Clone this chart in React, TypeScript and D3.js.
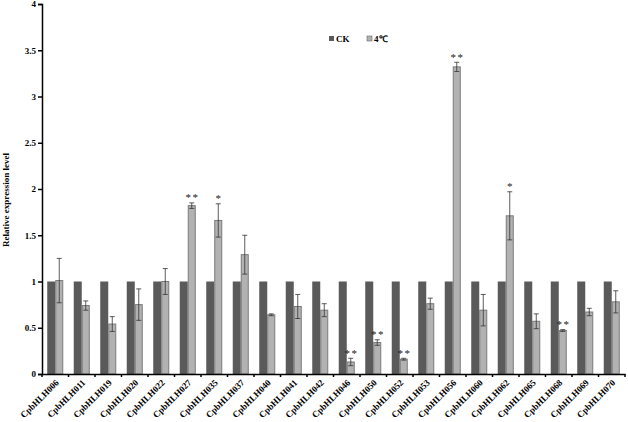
import React, { useEffect, useRef } from "react";
import * as d3 from "d3";

const genes = [
  "CpbHLH006", "CpbHLH011", "CpbHLH019", "CpbHLH020", "CpbHLH022", "CpbHLH027",
  "CpbHLH035", "CpbHLH037", "CpbHLH040", "CpbHLH041", "CpbHLH042", "CpbHLH046",
  "CpbHLH050", "CpbHLH052", "CpbHLH053", "CpbHLH056", "CpbHLH060", "CpbHLH062",
  "CpbHLH065", "CpbHLH068", "CpbHLH069", "CpbHLH070",
];
const ckValues = genes.map(() => 1);
const coldValues = [
  1.01, 0.74, 0.54, 0.75, 1.0, 1.82, 1.66, 1.29, 0.64, 0.73, 0.69, 0.13,
  0.34, 0.16, 0.76, 3.32, 0.69, 1.71, 0.57, 0.47, 0.67, 0.78,
];
const coldErrors = [
  0.24, 0.05, 0.08, 0.17, 0.14, 0.03, 0.18, 0.21, 0.01, 0.13, 0.07, 0.04,
  0.03, 0.01, 0.06, 0.05, 0.17, 0.26, 0.08, 0.01, 0.04, 0.12,
];
const marks = [
  "", "", "", "", "", "**", "*", "", "", "", "", "**",
  "**", "**", "", "**", "", "*", "", "**", "", "",
];
const yTicks = [0, 0.5, 1, 1.5, 2, 2.5, 3, 3.5, 4];

const App = () => {
  const ref = useRef<SVGSVGElement>(null);

  useEffect(() => {
    const width = 628;
    const height = 422;
    const left = 42;
    const right = 625;
    const top = 4;
    const bottom = 374;
    const font = "'Liberation Serif', 'Times New Roman', serif";

    const svg = d3.select(ref.current);
    svg.selectAll("*").remove();
    svg.attr("width", width).attr("height", height);

    const x = d3.scaleBand().domain(genes).range([left, right]).padding(0);
    const y = d3.scaleLinear().domain([0, 4]).range([bottom, top]);
    const barW = 8;

    const g = svg.append("g");

    // CK bars
    g.selectAll(".ck")
      .data(genes)
      .enter()
      .append("rect")
      .attr("x", (d) => x(d)! + x.bandwidth() / 2 - barW)
      .attr("y", (d, i) => y(ckValues[i]))
      .attr("width", barW)
      .attr("height", (d, i) => bottom - y(ckValues[i]))
      .attr("fill", "#5a5a5a");

    // 4°C bars
    g.selectAll(".cold")
      .data(genes)
      .enter()
      .append("rect")
      .attr("x", (d) => x(d)! + x.bandwidth() / 2 + 0.5)
      .attr("y", (d, i) => y(coldValues[i]))
      .attr("width", barW - 1)
      .attr("height", (d, i) => bottom - y(coldValues[i]))
      .attr("fill", "#b2b2b2")
      .attr("stroke", "#7a7a7a")
      .attr("stroke-width", 1);

    // error bars + significance marks
    genes.forEach((gene, i) => {
      const cx = x(gene)! + x.bandwidth() / 2 + barW / 2;
      const y1 = y(coldValues[i] + coldErrors[i]);
      const y2 = y(coldValues[i] - coldErrors[i]);
      const eg = g.append("g").attr("stroke", "#333").attr("stroke-width", 0.8);
      eg.append("line").attr("x1", cx).attr("x2", cx).attr("y1", y1).attr("y2", y2);
      eg.append("line").attr("x1", cx - 2.5).attr("x2", cx + 2.5).attr("y1", y1).attr("y2", y1);
      eg.append("line").attr("x1", cx - 2.5).attr("x2", cx + 2.5).attr("y1", y2).attr("y2", y2);
      if (marks[i]) {
        g.append("text")
          .attr("x", cx + (marks[i].length > 1 ? 0.75 : 0))
          .attr("y", y1 - 1.5)
          .attr("text-anchor", "middle")
          .attr("font-family", font)
          .attr("font-size", 11)
          .attr("letter-spacing", marks[i].length > 1 ? 1.5 : 0)
          .attr("fill", "#222")
          .text(marks[i]);
      }
    });

    // y axis
    const yAxis = svg
      .append("g")
      .attr("transform", `translate(${left},0)`)
      .call(d3.axisLeft(y).tickValues(yTicks).tickSize(4).tickFormat((d) => String(d)));
    yAxis.select(".domain").attr("stroke", "#000").attr("stroke-width", 1.5);
    yAxis.selectAll(".tick line").attr("stroke", "#000").attr("stroke-width", 1.5);
    yAxis
      .selectAll("text")
      .attr("font-family", font)
      .attr("font-weight", "bold")
      .attr("font-size", 9)
      .attr("fill", "#000")
      .attr("x", -6);

    // x axis
    const xAxis = svg
      .append("g")
      .attr("transform", `translate(0,${bottom})`)
      .call(d3.axisBottom(x).tickSize(0).tickSizeOuter(0));
    xAxis.select(".domain").attr("stroke", "#000").attr("stroke-width", 1.5);
    xAxis.selectAll(".tick line").remove();
    const boundaries = genes.map((d) => x(d)!).concat([right]);
    xAxis
      .selectAll(".bound")
      .data(boundaries)
      .enter()
      .append("line")
      .attr("x1", (d) => d)
      .attr("x2", (d) => d)
      .attr("y1", 0)
      .attr("y2", 3)
      .attr("stroke", "#000")
      .attr("stroke-width", 1.5);
    xAxis
      .selectAll(".tick text")
      .attr("font-family", font)
      .attr("font-weight", "bold")
      .attr("font-size", 9)
      .attr("fill", "#000")
      .attr("text-anchor", "end")
      .attr("transform", "translate(2,7) rotate(-45)")
      .attr("x", 0)
      .attr("y", 0)
      .attr("dy", "0.35em");

    // y label
    svg
      .append("text")
      .attr("transform", `translate(9,200) rotate(-90)`)
      .attr("text-anchor", "middle")
      .attr("font-family", font)
      .attr("font-weight", "bold")
      .attr("font-size", 9)
      .text("Relative expression level");

    // legend
    const legend = svg.append("g").attr("transform", "translate(329,36)");
    legend.append("rect").attr("x", 0).attr("y", 0).attr("width", 5).attr("height", 5).attr("fill", "#5a5a5a");
    legend
      .append("text")
      .attr("x", 7)
      .attr("y", 5.5)
      .attr("font-family", font)
      .attr("font-weight", "bold")
      .attr("font-size", 9)
      .text("CK");
    legend
      .append("rect")
      .attr("x", 38)
      .attr("y", 0)
      .attr("width", 5)
      .attr("height", 5)
      .attr("fill", "#b2b2b2")
      .attr("stroke", "#666")
      .attr("stroke-width", 0.6);
    legend
      .append("text")
      .attr("x", 45)
      .attr("y", 5.5)
      .attr("font-family", font)
      .attr("font-weight", "bold")
      .attr("font-size", 9)
      .text("4℃");
  }, []);

  return <svg ref={ref} style={{ position: "absolute", left: 0, top: 0 }}></svg>;
};

export default App;
